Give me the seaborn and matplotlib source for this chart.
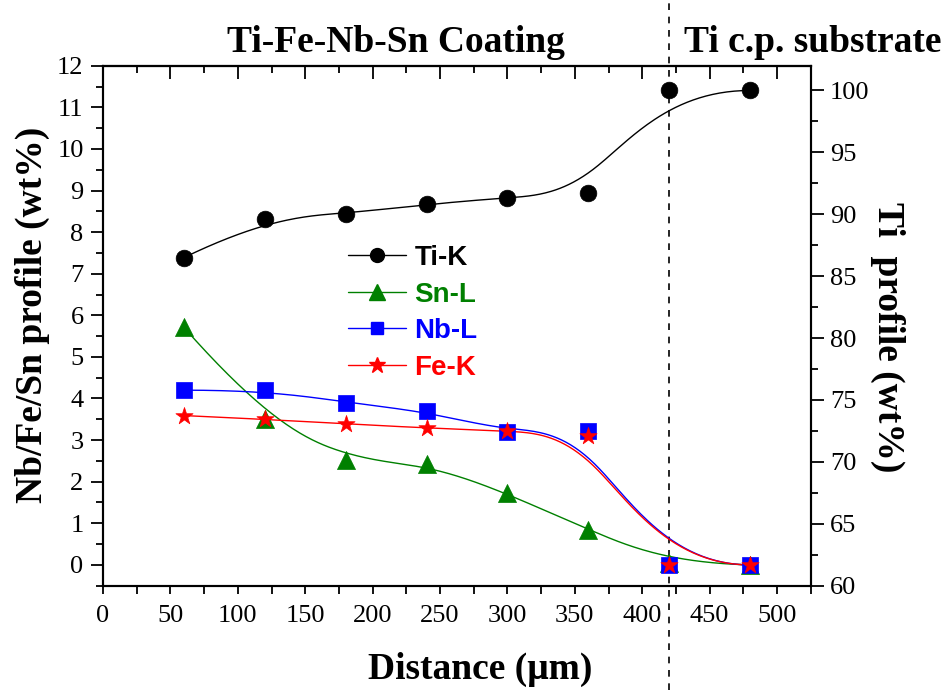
import numpy as np
import pandas as pd
import matplotlib
matplotlib.use("Agg")
import matplotlib.pyplot as plt
from matplotlib.lines import Line2D
from matplotlib.ticker import MultipleLocator
import seaborn as sns

# data
distance = [60, 120, 180, 240, 300, 360, 420, 480]
ti_k = [86.5, 89.65, 90.05, 90.8, 91.35, 91.75, 100.0, 100.0]   # right axis
sn_l = [5.71, 3.51, 2.51, 2.43, 1.72, 0.84, 0.05, 0.0]
nb_l = [4.2, 4.2, 3.9, 3.69, 3.2, 3.23, 0.0, 0.0]
fe_k = [3.59, 3.5, 3.39, 3.29, 3.22, 3.1, 0.0, 0.0]

coating_label = "Ti-Fe-Nb-Sn Coating"
substrate_label = "Ti c.p. substrate"
interface_x = 420


def bspline(xs, ys, n=300, k=3):
    # clamped cubic B-spline using the data points as control points (Origin style)
    P = np.column_stack([xs, ys]).astype(float)
    m = len(P)
    knots = np.concatenate([np.zeros(k), np.arange(m - k + 1), np.full(k, m - k)]).astype(float)
    t = np.linspace(0, m - k, n)
    N = np.zeros((n, len(knots) - 1))
    for i in range(len(knots) - 1):
        N[:, i] = (knots[i] <= t) & (t < knots[i + 1])
    N[t == knots[-1], m - 1] = 1
    for d in range(1, k + 1):
        Nn = np.zeros((n, len(knots) - 1 - d))
        for i in range(len(knots) - 1 - d):
            a = knots[i + d] - knots[i]
            b = knots[i + d + 1] - knots[i + 1]
            term = np.zeros(n)
            if a > 0:
                term += (t - knots[i]) / a * N[:, i]
            if b > 0:
                term += (knots[i + d + 1] - t) / b * N[:, i + 1]
            Nn[:, i] = term
        N = Nn
    C = N @ P
    return pd.DataFrame({"x": C[:, 0], "y": C[:, 1]})


sns.set_style("ticks")
plt.rcParams["font.family"] = ["Liberation Serif", "DejaVu Serif"]
plt.rcParams["axes.linewidth"] = 1.5
for key in ["text.color", "axes.labelcolor", "xtick.color", "ytick.color", "axes.edgecolor"]:
    plt.rcParams[key] = "black"

fig = plt.figure(figsize=(9.46, 6.91), dpi=100)
ax = fig.add_axes([0.1089, 0.1524, 0.7481, 0.7525])
ax2 = ax.twinx()

series = [
    (ax, sn_l, "Sn-L", "green", "^", 13),
    (ax, nb_l, "Nb-L", "blue", "s", 11),
    (ax, fe_k, "Fe-K", "red", "*", 13),
    (ax2, ti_k, "Ti-K", "black", "o", 12),
]

for a, vals, name, col, mk, ms in series:
    curve = bspline(distance, vals)
    sns.lineplot(data=curve, x="x", y="y", ax=a, color=col, linewidth=1.0,
                 sort=False, estimator=None, legend=False)
    sns.scatterplot(x=distance, y=vals, ax=a, color=col, marker=mk, s=ms ** 2,
                    edgecolor=col, linewidth=0.5, legend=False, zorder=5, clip_on=False)

ax.set_xlim(0, 525)
ax.set_ylim(-0.5, 12)
ax2.set_ylim(60, 102)
ax.set_xlabel("")
ax.set_ylabel("")
ax2.set_ylabel("")

ax.xaxis.set_major_locator(MultipleLocator(50))
ax.xaxis.set_minor_locator(MultipleLocator(25))
ax.yaxis.set_major_locator(MultipleLocator(1))
ax.yaxis.set_minor_locator(MultipleLocator(0.5))
ax2.yaxis.set_major_locator(MultipleLocator(5))
ax2.yaxis.set_minor_locator(MultipleLocator(2.5))

ax.tick_params(axis="x", which="major", direction="out", length=6, width=1.3,
               labelsize=19, pad=8, top=False)
ax.tick_params(axis="x", which="minor", direction="out", length=6, width=1.3, top=False)
ax.tick_params(axis="y", which="major", direction="out", length=9, width=1.3,
               labelsize=19, pad=5, right=False)
ax.tick_params(axis="y", which="minor", direction="out", length=5, width=1.3, right=False)
ax2.tick_params(axis="y", which="major", direction="out", length=9, width=1.3,
                labelsize=19, pad=5)
ax2.tick_params(axis="y", which="minor", direction="out", length=5, width=1.3)

top = ax.secondary_xaxis("top")
top.xaxis.set_major_locator(MultipleLocator(50))
top.xaxis.set_minor_locator(MultipleLocator(25))
top.tick_params(which="major", direction="in", length=9, width=1.3, labeltop=False)
top.tick_params(which="minor", direction="in", length=5, width=1.3)

for a in (ax, ax2):
    for sp in a.spines.values():
        sp.set_linewidth(1.5)
        sp.set_color("black")

# interface marker running past the frame
ax.axvline(interface_x, ymin=-0.2, ymax=1.13, color="black", linestyle=(0, (4, 4)),
           linewidth=1.2, clip_on=False, zorder=1)

label_font = dict(fontsize=27, fontweight="bold", color="black",
                  family=["Liberation Serif", "DejaVu Serif"])
ax.text(0.533, -0.179, "Distance (\u03bcm)", transform=ax.transAxes, ha="center",
        va="baseline", **label_font)
ax.text(-0.100, 0.52, "Nb/Fe/Sn profile (wt%)", transform=ax.transAxes, ha="center",
        va="center", rotation=90, **label_font)
ax.text(1.109, 0.478, "Ti  profile (wt%)", transform=ax.transAxes, ha="center",
        va="center", rotation=270, **label_font)
ax.text(0.414, 1.026, coating_label, transform=ax.transAxes, ha="center",
        va="baseline", **label_font)
ax.text(1.003, 1.026, substrate_label, transform=ax.transAxes, ha="center",
        va="baseline", **label_font)

handles = [
    Line2D([], [], color="black", marker="o", markersize=10, linewidth=1.0),
    Line2D([], [], color="green", marker="^", markersize=11, linewidth=1.0),
    Line2D([], [], color="blue", marker="s", markersize=9, linewidth=1.0),
    Line2D([], [], color="red", marker="*", markersize=12, linewidth=1.0),
]
names = ["Ti-K", "Sn-L", "Nb-L", "Fe-K"]
leg = ax2.legend(handles, names, loc="upper left", bbox_to_anchor=(0.346, 0.655),
                 frameon=False, handlelength=2.1, handletextpad=0.3, labelspacing=0.38,
                 prop={"family": ["Liberation Sans", "DejaVu Sans"], "weight": "bold", "size": 20},
                 borderaxespad=0, borderpad=0)
for txt, col in zip(leg.get_texts(), ["black", "green", "blue", "red"]):
    txt.set_color(col)

fig.savefig("out.png", dpi=100)
